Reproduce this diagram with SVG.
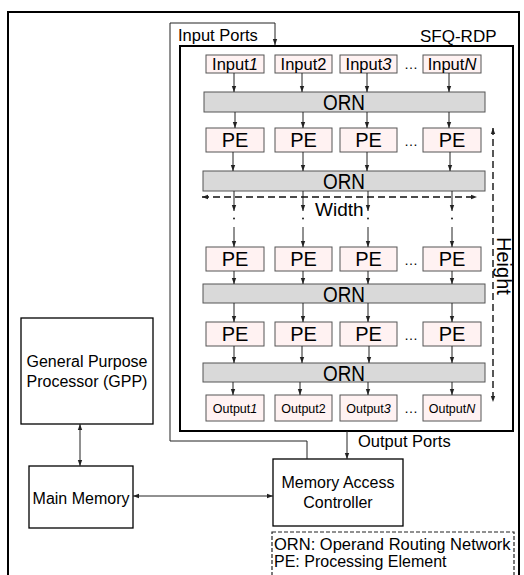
<svg xmlns="http://www.w3.org/2000/svg" width="524" height="575" viewBox="0 0 524 575">
<style>
text{font-family:"Liberation Sans",Arial,sans-serif;fill:#000}
.cell{fill:#FFF2F2;stroke:#555;stroke-width:1}
.orn{fill:#D9D9D9;stroke:#555;stroke-width:1}
.blk{fill:#fff;stroke:#000;stroke-width:1.3}
.frame{fill:none;stroke:#000;stroke-width:2}
.ln{fill:none;stroke:#222;stroke-width:1}
.arr{fill:none;stroke:#222;stroke-width:1;marker-end:url(#ah)}
.dbl{fill:none;stroke:#222;stroke-width:1;marker-end:url(#ah);marker-start:url(#ah)}
.dash{fill:none;stroke:#111;stroke-width:1.4;stroke-dasharray:7 4;marker-end:url(#ah);marker-start:url(#ah)}
.pe{font-size:20px;text-anchor:middle}
.ornt{font-size:22px;text-anchor:middle}
.in{font-size:16.5px;text-anchor:middle}
.out{font-size:12.5px;text-anchor:middle}
.dots{font-size:14px;text-anchor:middle}
.lbl{font-size:16.5px}
.big{font-size:16px;text-anchor:middle}
.i{font-style:italic}
</style>
<defs>
<marker id="ah" viewBox="0 0 6 6" refX="6" refY="3" markerWidth="6" markerHeight="6" markerUnits="userSpaceOnUse" orient="auto-start-reverse">
<path d="M0,0.8 L6,3 L0,5.2 z" fill="#222"/>
</marker>
</defs>

<g id="outer-frame">
<rect class="frame" x="8" y="12" width="511" height="600"/>
</g>

<g id="sfq-rdp">
<rect class="frame" x="180" y="46" width="333" height="385"/>
<text x="420" y="42" style="font-size:17px">SFQ-RDP</text>
</g>

<g id="input-row">
<rect class="cell" x="206" y="55" width="58" height="18"/>
<text class="in" x="235" y="70">Input<tspan class="i">1</tspan></text>
<rect class="cell" x="275" y="55" width="57" height="18"/>
<text class="in" x="303.5" y="70">Input2</text>
<rect class="cell" x="340" y="55" width="57" height="18"/>
<text class="in" x="368.5" y="70">Input<tspan class="i">3</tspan></text>
<text class="dots" x="411" y="69">…</text>
<rect class="cell" x="423" y="55" width="58" height="18"/>
<text class="in" x="452" y="70">Input<tspan class="i">N</tspan></text>
</g>

<g id="orn1">
<rect class="orn" x="204" y="92" width="281" height="20"/>
<text class="ornt" x="344" y="110" textLength="42" lengthAdjust="spacingAndGlyphs">ORN</text>
</g>

<g id="pe-row1">
<rect class="cell" x="206" y="128" width="58" height="24"/>
<text class="pe" x="235" y="147">PE</text>
<rect class="cell" x="275" y="128" width="57" height="24"/>
<text class="pe" x="303.5" y="147">PE</text>
<rect class="cell" x="340" y="128" width="57" height="24"/>
<text class="pe" x="368.5" y="147">PE</text>
<text class="dots" x="411" y="146">…</text>
<rect class="cell" x="423" y="128" width="58" height="24"/>
<text class="pe" x="452" y="147">PE</text>
</g>

<g id="orn2">
<rect class="orn" x="203" y="171" width="282" height="20"/>
<text class="ornt" x="344" y="189" textLength="42" lengthAdjust="spacingAndGlyphs">ORN</text>
</g>

<g id="pe-row2">
<rect class="cell" x="206" y="247" width="58" height="24"/>
<text class="pe" x="235" y="266">PE</text>
<rect class="cell" x="275" y="247" width="57" height="24"/>
<text class="pe" x="303.5" y="266">PE</text>
<rect class="cell" x="340" y="247" width="57" height="24"/>
<text class="pe" x="368.5" y="266">PE</text>
<text class="dots" x="411" y="265">…</text>
<rect class="cell" x="423" y="247" width="58" height="24"/>
<text class="pe" x="452" y="266">PE</text>
</g>

<g id="orn3">
<rect class="orn" x="203" y="284" width="282" height="19"/>
<text class="ornt" x="344" y="301.5" textLength="42" lengthAdjust="spacingAndGlyphs">ORN</text>
</g>

<g id="pe-row3">
<rect class="cell" x="206" y="322" width="58" height="24"/>
<text class="pe" x="235" y="341">PE</text>
<rect class="cell" x="275" y="322" width="57" height="24"/>
<text class="pe" x="303.5" y="341">PE</text>
<rect class="cell" x="340" y="322" width="57" height="24"/>
<text class="pe" x="368.5" y="341">PE</text>
<text class="dots" x="411" y="340">…</text>
<rect class="cell" x="423" y="322" width="58" height="24"/>
<text class="pe" x="452" y="341">PE</text>
</g>

<g id="orn4">
<rect class="orn" x="203" y="363" width="282" height="19"/>
<text class="ornt" x="344" y="380.5" textLength="42" lengthAdjust="spacingAndGlyphs">ORN</text>
</g>

<g id="output-row">
<rect class="cell" x="206" y="395" width="58" height="26"/>
<text class="out" x="235" y="413">Output<tspan class="i">1</tspan></text>
<rect class="cell" x="275" y="395" width="57" height="26"/>
<text class="out" x="303.5" y="413">Output2</text>
<rect class="cell" x="340" y="395" width="57" height="26"/>
<text class="out" x="368.5" y="413">Output<tspan class="i">3</tspan></text>
<text class="dots" x="411" y="413">…</text>
<rect class="cell" x="423" y="395" width="58" height="26"/>
<text class="out" x="452" y="413">Output<tspan class="i">N</tspan></text>
</g>

<g id="gpp">
<rect class="blk" x="21" y="318" width="132" height="106"/>
<text class="big" x="87" y="367">General Purpose</text>
<text class="big" x="87" y="387">Processor (GPP)</text>
</g>

<g id="main-memory">
<rect class="blk" x="29" y="466" width="104" height="62"/>
<text class="big" x="81" y="504">Main Memory</text>
</g>

<g id="mac">
<rect class="blk" x="273" y="459" width="130" height="67"/>
<text class="big" x="338" y="488">Memory Access</text>
<text class="big" x="338" y="508">Controller</text>
</g>

<g id="legend">
<rect x="272" y="532" width="242" height="50" fill="none" stroke="#222" stroke-width="1.2" stroke-dasharray="4 2"/>
<text x="274" y="549.5" style="font-size:16.5px">ORN: Operand Routing Network</text>
<text x="274" y="567" style="font-size:16px">PE: Processing Element</text>
</g>

<g id="labels">
<text class="lbl" x="178" y="41">Input Ports</text>
<text class="lbl" x="358" y="447">Output Ports</text>
<text x="315" y="215.5" style="font-size:19px">Width</text>
<text transform="translate(497,237) rotate(90)" style="font-size:20px">Height</text>
</g>

<g id="connectors">
<polyline class="arr" points="307,459 307,441 170,441 170,23 275,23 275,45"/>
<line class="arr" x1="347" y1="431" x2="347" y2="459"/>
<line class="dbl" x1="80" y1="424" x2="80" y2="466"/>
<line class="dbl" x1="133" y1="496" x2="273" y2="496"/>

<line class="arr" x1="234" y1="73" x2="234" y2="92"/>
<line class="arr" x1="302" y1="73" x2="302" y2="92"/>
<line class="arr" x1="367" y1="73" x2="367" y2="92"/>
<line class="arr" x1="449" y1="73" x2="449" y2="92"/>

<line class="arr" x1="235" y1="112" x2="235" y2="128"/>
<line class="arr" x1="303" y1="112" x2="303" y2="128"/>
<line class="arr" x1="367" y1="112" x2="367" y2="128"/>
<line class="arr" x1="449" y1="112" x2="449" y2="128"/>

<line class="arr" x1="233" y1="152" x2="233" y2="171"/>
<line class="arr" x1="303" y1="152" x2="303" y2="171"/>
<line class="arr" x1="367" y1="152" x2="367" y2="171"/>
<line class="arr" x1="450" y1="152" x2="450" y2="171"/>

<line class="arr" x1="234" y1="191" x2="234" y2="211"/>
<line class="arr" x1="303" y1="191" x2="303" y2="211"/>
<line class="arr" x1="368" y1="191" x2="368" y2="211"/>
<line class="arr" x1="452" y1="191" x2="452" y2="211"/>
<g fill="#222">
<circle cx="234" cy="218.5" r="1"/>
<circle cx="303" cy="218.5" r="1"/>
<circle cx="368" cy="218.5" r="1"/>
<circle cx="452" cy="218.5" r="1"/>
</g>
<line class="arr" x1="234" y1="227" x2="234" y2="247"/>
<line class="arr" x1="303" y1="227" x2="303" y2="247"/>
<line class="arr" x1="368" y1="227" x2="368" y2="247"/>
<line class="arr" x1="452" y1="227" x2="452" y2="247"/>

<line class="arr" x1="234" y1="271" x2="234" y2="284"/>
<line class="arr" x1="303" y1="271" x2="303" y2="284"/>
<line class="arr" x1="368" y1="271" x2="368" y2="284"/>
<line class="arr" x1="452" y1="271" x2="452" y2="284"/>

<line class="arr" x1="234" y1="303" x2="234" y2="322"/>
<line class="arr" x1="303" y1="303" x2="303" y2="322"/>
<line class="arr" x1="368" y1="303" x2="368" y2="322"/>
<line class="arr" x1="452" y1="303" x2="452" y2="322"/>

<line class="arr" x1="234" y1="346" x2="234" y2="363"/>
<line class="arr" x1="302" y1="346" x2="302" y2="363"/>
<line class="arr" x1="369" y1="346" x2="369" y2="363"/>
<line class="arr" x1="452" y1="346" x2="452" y2="363"/>

<line class="arr" x1="233" y1="382" x2="233" y2="395"/>
<line class="arr" x1="300" y1="382" x2="300" y2="395"/>
<line class="arr" x1="368" y1="382" x2="368" y2="395"/>
<line class="arr" x1="452" y1="382" x2="452" y2="395"/>

<line class="dash" x1="202" y1="197" x2="477" y2="197"/>
<line class="dash" x1="493" y1="128" x2="493" y2="402"/>
</g>
</svg>
